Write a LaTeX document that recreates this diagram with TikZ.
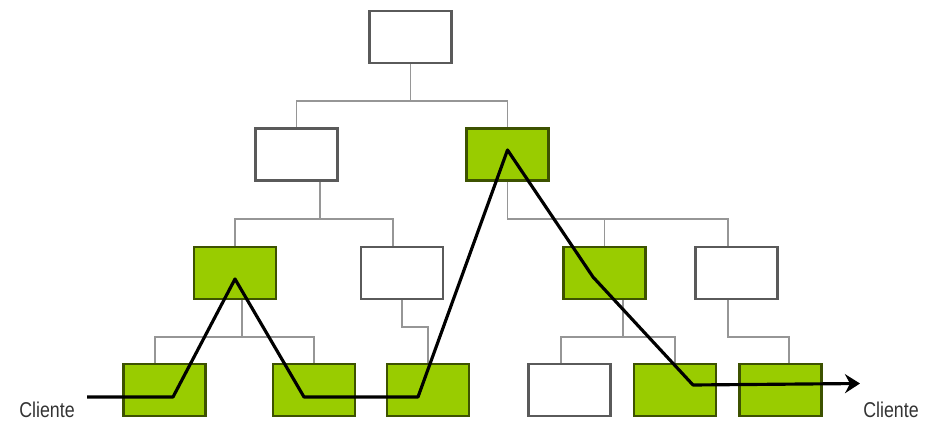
\documentclass[tikz,border=0pt]{standalone}
\usepackage{fontspec}
\setmainfont{Liberation Sans}
\usetikzlibrary{arrows.meta}
\definecolor{leafgreen}{RGB}{153,204,0}
\definecolor{boxgray}{RGB}{90,90,90}
\definecolor{linkgray}{RGB}{150,150,150}

\begin{document}
\begin{tikzpicture}[
    box/.style = {shape = rectangle, draw = boxgray, line width = 1.5pt, fill = white,
        minimum width = 1.64cm, minimum height = 1.04cm, inner sep = 0pt},
    hit/.style = {box, fill = leafgreen, draw = leafgreen!40!black},
    link/.style = {draw = linkgray, line width = 1pt},
    route/.style = {draw = black, line width = 1.8pt, line join = round},
    client/.style = {font = \fontsize{12.2}{14}\selectfont, text = black!80, xscale = 0.83}]
    \useasboundingbox (0,0) rectangle (18.5,8.46);

    \node [box] (root) at (8.21,7.72) {};

    \node [box] (b1) at (5.93,5.37) {};
    \node [hit] (b2) at (10.15,5.37) {};

    \node [hit] (c1) at (4.70,3.00) {};
    \node [box] (c2) at (8.04,3.00) {};
    \node [hit] (c3) at (12.09,3.00) {};
    \node [box] (c4) at (14.73,3.00) {};

    \node [hit] (d1) at (3.29,0.66) {};
    \node [hit] (d2) at (6.28,0.66) {};
    \node [hit] (d3) at (8.56,0.66) {};
    \node [box] (d4) at (11.39,0.66) {};
    \node [hit] (d5) at (13.50,0.66) {};
    \node [hit] (d6) at (15.61,0.66) {};

    \node [client] (cin) at (0.94,0.26) {Cliente};
    \node [client] (cout) at (17.82,0.26) {Cliente};
    \coordinate (in) at (1.74,0.52);
    \coordinate (out) at (17.20,0.79);

    \draw [link] (root.south) -- ++(0,-0.73) -| (b1.north);
    \draw [link] (root.south) -- ++(0,-0.73) -| (b2.north);

    \draw [link] ([xshift=0.47cm]b1.south) -- ++(0,-0.74) -| (c1.north);
    \draw [link] ([xshift=0.47cm]b1.south) -- ++(0,-0.74) -| ([xshift=-0.18cm]c2.north);
    \draw [link] (b2.south) -- ++(0,-0.74) -| (c3.north);
    \draw [link] (b2.south) -- ++(0,-0.74) -| ([xshift=-0.17cm]c4.north);

    \draw [link] ([xshift=0.14cm]c1.south) -- ++(0,-0.73) -| ([xshift=-0.19cm]d1.north);
    \draw [link] ([xshift=0.14cm]c1.south) -- ++(0,-0.73) -| (d2.north);
    \draw [link] (c2.south) -- ++(0,-0.53) -| (d3.north);
    \draw [link] ([xshift=0.37cm]c3.south) -- ++(0,-0.73) -| ([xshift=-0.17cm]d4.north);
    \draw [link] ([xshift=0.37cm]c3.south) -- ++(0,-0.73) -| (d5.north);
    \draw [link] ([xshift=-0.17cm]c4.south) -- ++(0,-0.73) -| ([xshift=0.17cm]d6.north);

    \draw [route, -{Stealth[length = 0.3cm, width = 0.38cm, inset = 0.1cm]}]
        (in) -- ([shift={(0.17,-0.14)}]d1.center)
        -- ([yshift=-0.12cm]c1.center)
        -- ([shift={(-0.20,-0.14)}]d2.center)
        -- ([shift={(-0.20,-0.14)}]d3.center)
        -- ([yshift=0.09cm]b2.center)
        -- ([shift={(-0.23,-0.08)}]c3.center)
        -- ([shift={(0.36,0.10)}]d5.center)
        -- (out);
\end{tikzpicture}
\end{document}
